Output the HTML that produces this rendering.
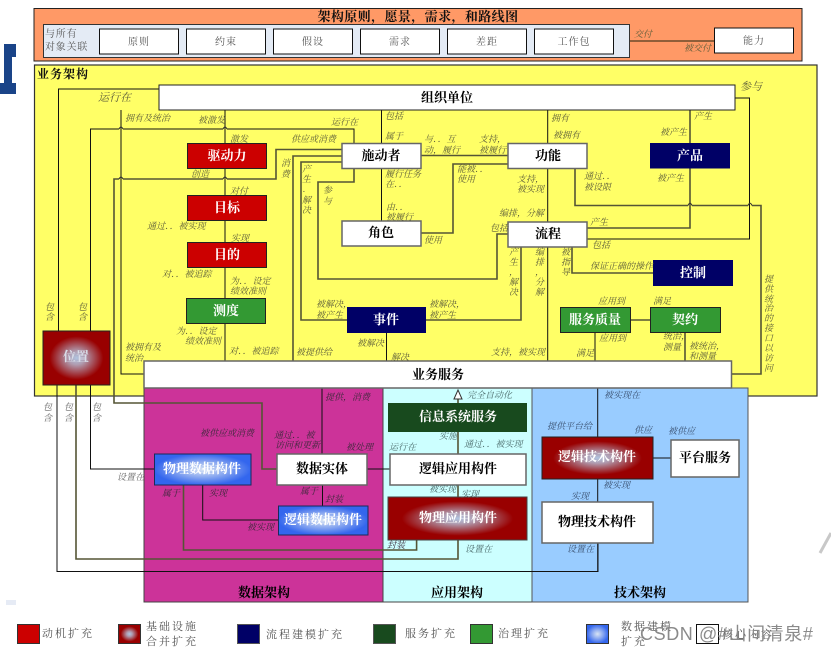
<!DOCTYPE html>
<html><head><meta charset="utf-8"><style>
html,body{margin:0;padding:0;background:#fff}
svg{display:block;filter:blur(.3px)}
text{font-family:"Liberation Serif","Noto Serif CJK SC",serif}
.t text{font-size:9px;font-style:italic;fill:#5c5c3a}
.p text{fill:#3a2a3a}.c text{fill:#4a6a6a}.b text{fill:#3a5070}.w text{fill:#666}
.n{font-size:13px;font-weight:bold;text-anchor:middle;fill:#000}
.nw{font-size:13px;font-weight:bold;text-anchor:middle;fill:#fff}
.g{font-size:10px;text-anchor:middle;fill:#555;letter-spacing:1px}
.lg{font-size:11px;fill:#555;letter-spacing:2px}
.k{fill:none;stroke:#111;stroke-width:1}
.q{fill:none;stroke:#555535;stroke-width:1.6}
.bx{stroke:#222;stroke-width:1}
.gb{stroke:#666;stroke-width:1.5}
</style></head><body>
<svg width="831" height="651" viewBox="0 0 831 651" xmlns="http://www.w3.org/2000/svg">
<defs>
<radialGradient id="rg"><stop offset="0" stop-color="#b0c4e0"/><stop offset=".25" stop-color="#b09cb0"/><stop offset=".8" stop-color="#990000"/><stop offset="1" stop-color="#990000"/></radialGradient>
<radialGradient id="bg"><stop offset="0" stop-color="#d8e4f4"/><stop offset=".5" stop-color="#8aa8f0"/><stop offset="1" stop-color="#3366ee"/></radialGradient>
</defs>
<path d="M4 44H16V57H12V83H16V94H0V83H4Z" fill="#1a4488"/>
<path d="M820 553L831 533" stroke="#c8c8c8" stroke-width="3" fill="none"/>
<rect x="6" y="600" width="10" height="5" fill="#e6ebf5"/>

<rect x="34" y="8.5" width="768" height="52.500" fill="#ff9966" stroke="#222"/>
<text x="418" y="21" font-size="13" font-weight="bold" text-anchor="middle" fill="#111" letter-spacing=".4">架构原则，愿景，需求，和路线图</text>
<rect x="43.500" y="24.500" width="586" height="33" fill="#e4ebf5" stroke="#333"/>
<text x="45" y="37" font-size="10" fill="#555" letter-spacing=".8">与所有</text>
<text x="45" y="50" font-size="10" fill="#555" letter-spacing=".8">对象关联</text>
<path d="M630 41H714" stroke="#6b4a2a" stroke-width="1.5"/>
<g fill="#fff" stroke="#111">
<rect x="99.500" y="29" width="79" height="25"/><rect x="186.500" y="29" width="79" height="25"/><rect x="273.500" y="29" width="79" height="25"/><rect x="360.500" y="29" width="79" height="25"/><rect x="447.500" y="29" width="79" height="25"/><rect x="534.500" y="29" width="79" height="25"/><rect x="714.500" y="28" width="79" height="25"/>
</g>
<g class="g"><text class="g" x="139" y="45">原则</text><text class="g" x="226" y="45">约束</text><text class="g" x="313" y="45">假设</text><text class="g" x="400" y="45">需求</text><text class="g" x="487" y="45">差距</text><text class="g" x="574" y="45">工作包</text><text class="g" x="754" y="44">能力</text></g>

<rect x="34.500" y="65" width="782.500" height="331" fill="#ffff66" stroke="#333" stroke-width="1.2"/>
<text x="37" y="78" font-size="12" font-weight="bold" fill="#111" letter-spacing="1">业务架构</text>

<rect x="144" y="388" width="239" height="214" fill="#cc3399" stroke="#444"/>
<rect x="383" y="388" width="149" height="214" fill="#ccffff" stroke="#444"/>
<rect x="532" y="388" width="216" height="214" fill="#99ccff" stroke="#555"/>

<!-- connectors -->
<path class="k" d="M159 89H58.500V331"/>
<path class="k" d="M57 385V571.500H598V543"/>
<path class="q" d="M76 385V559H458V540"/>
<path class="k" d="M90.500 331V129H119M123 129H223M227 129H354V143"/>
<path class="k" d="M90.500 385V469H154"/>
<path class="k" d="M121 110V374H144"/>
<path class="k" d="M225 110V143M225 168V195M225 221V242M225 268V298M225 324V361"/>
<path class="q" d="M342 149.500H276V179H227M223 179H123M119 179H114V403H262V469H277"/>
<path class="q" d="M342 156H293V361"/>
<path class="q" d="M342 162H301V320H347"/>
<path class="q" d="M354 168V182H318V279H497V234H508"/>
<path class="k" d="M381.500 110V143M381.500 168V221"/>
<path class="q" d="M421 155.500H508"/>
<path class="q" d="M421 233H453V164H508"/>
<path class="k" d="M547.700 110V143M547.700 168V222M547.700 247V361"/>
<path class="q" d="M575 168V205.500H688M692 205.500H748M752 205.500H761V374H731"/>
<path class="q" d="M690 110V143M690 168V228H587"/>
<path class="k" d="M735 98H749.500V239H587"/>
<path class="q" d="M521 247V320H426"/>
<path class="q" d="M572 247V273H653"/>
<path class="k" d="M386.500 333V361"/>
<path class="k" d="M595 333V361"/>
<path class="q" d="M631 320H650M685 333V361"/>
<path d="M119 129Q121 125 123 129M223 129Q225 125 227 129M119 179Q121 175 123 179M223 179Q225 175 227 179M688 205.500Q690 201 692 205.500M748 205.500Q750 201 752 205.500" fill="none" stroke="#333"/>
<path class="k" d="M597.700 388V437M597.700 479V502M597.700 543V572"/>
<path class="k" d="M322 388V454"/>
<path class="q" d="M458 399V403M458 432V454M458 485V497"/>
<path d="M454 399L458 390L462 399Z" fill="#fff" stroke="#333"/>
<path class="q" d="M416.600 540V550H183.500V485"/>
<path class="k" d="M202.700 485V520H278"/>
<path class="k" d="M322.500 485V506"/>
<path class="k" d="M367 469H390"/>
<path class="k" d="M653 458H671"/>

<!-- nodes -->
<rect x="144" y="361" width="587.500" height="27" fill="#fff" class="gb"/>
<text class="n" x="438" y="379">业务服务</text>
<rect x="159" y="85" width="576" height="25" fill="#fff" stroke="#222"/>
<text class="n" x="447" y="102">组织单位</text>
<rect class="bx" x="187.500" y="143.500" width="79" height="25" fill="#cc0000"/><text class="nw" x="227" y="160">驱动力</text>
<rect class="bx" x="187.500" y="195.500" width="79" height="25" fill="#cc0000"/><text class="nw" x="227" y="212">目标</text>
<rect class="bx" x="187.500" y="242.500" width="79" height="25" fill="#cc0000"/><text class="nw" x="227" y="259">目的</text>
<rect class="bx" x="186.500" y="298.500" width="79" height="25" fill="#339933"/><text class="nw" x="226" y="315">测度</text>
<rect class="bx" x="43" y="331" width="67" height="54" fill="url(#rg)"/><text x="76" y="361" font-size="13" font-weight="bold" text-anchor="middle" fill="#d8dce8">位置</text>
<rect class="gb" x="342" y="143.500" width="79" height="25" fill="#fff"/><text class="n" x="381" y="160">施动者</text>
<rect class="gb" x="342" y="221" width="79" height="25" fill="#fff"/><text class="n" x="381" y="237">角色</text>
<rect class="gb" x="508" y="143.500" width="79" height="25" fill="#fff"/><text class="n" x="548" y="160">功能</text>
<rect class="gb" x="508" y="222" width="79" height="25" fill="#fff"/><text class="n" x="548" y="238">流程</text>
<rect x="650" y="143" width="80" height="25.500" fill="#000066"/><text class="nw" x="690" y="160">产品</text>
<rect x="653" y="260" width="80" height="26" fill="#000066"/><text class="nw" x="693" y="277">控制</text>
<rect x="347" y="307" width="79" height="26" fill="#000066"/><text class="nw" x="386" y="324">事件</text>
<rect class="bx" x="560.500" y="307.500" width="70" height="25" fill="#339933"/><text class="nw" x="595" y="324">服务质量</text>
<rect class="bx" x="650.500" y="307.500" width="70" height="25" fill="#339933"/><text class="nw" x="685" y="324">契约</text>
<rect x="388" y="403" width="139" height="29" fill="#184a1e"/><text class="nw" x="458" y="421">信息系统服务</text>
<rect class="gb" x="390" y="454" width="136" height="31" fill="#fff"/><text class="n" x="458" y="473">逻辑应用构件</text>
<rect x="388" y="497" width="139" height="43" fill="url(#rg)" stroke="#444"/><text class="nw" x="458" y="522">物理应用构件</text>
<rect x="542" y="437" width="111" height="42" fill="url(#rg)" stroke="#222"/><text class="nw" x="597" y="461">逻辑技术构件</text>
<rect class="gb" x="542" y="502" width="111" height="41" fill="#fff"/><text class="n" x="597" y="526">物理技术构件</text>
<rect class="gb" x="671" y="440" width="68" height="37" fill="#fff"/><text class="n" x="705" y="462">平台服务</text>
<rect x="154.500" y="454" width="96.500" height="31" fill="url(#bg)" stroke="#1a2a5a"/><text class="nw" x="202" y="473">物理数据构件</text>
<rect class="gb" x="277" y="454" width="90" height="31" fill="#fff"/><text class="n" x="322" y="473">数据实体</text>
<rect x="278.500" y="506" width="89.500" height="29" fill="url(#bg)" stroke="#1a2a5a"/><text class="nw" x="323" y="524">逻辑数据构件</text>
<text class="n" x="264" y="597">数据架构</text><text class="n" x="457" y="597">应用架构</text><text class="n" x="640" y="597">技术架构</text>

<!-- yellow labels -->
<g class="t">
<text x="98" y="101" style="font-size:11px">运行在</text>
<text x="125" y="121">拥有及统治</text><text x="198" y="123">被激发</text><text x="230" y="142">激发</text>
<text x="291" y="142">供应或消费</text><text x="331" y="125">运行在</text><text x="385" y="119">包括</text><text x="385" y="139">属于</text>
<text x="191" y="177">创造</text><text x="230" y="194">对付</text>
<text x="281" y="166">消</text><text x="281" y="177">费</text>
<text x="302" y="172">产</text><text x="302" y="182">生</text><text x="303" y="192">.</text><text x="302" y="203">解</text><text x="302" y="213">决</text>
<text x="323" y="193">参</text><text x="323" y="204">与</text>
<text x="385" y="177">履行任务</text><text x="385" y="187">在．．</text><text x="386" y="210">由．．</text><text x="386" y="220">被履行</text>
<text x="424" y="142">与．．互</text><text x="424" y="153">动，履行</text><text x="479" y="142">支持，</text><text x="479" y="153">被履行</text>
<text x="457" y="172">能被．．</text><text x="457" y="182">使用</text><text x="517" y="182">支持，</text><text x="517" y="192">被实现</text>
<text x="499" y="216">编排，分解</text><text x="490" y="231">包括</text><text x="424" y="243">使用</text>
<text x="551" y="121">拥有</text><text x="553" y="138">被拥有</text><text x="660" y="135">被产生</text><text x="694" y="119">产生</text><text x="657" y="181">被产生</text>
<text x="584" y="179">通过．．</text><text x="584" y="190">被设限</text><text x="590" y="225">产生</text><text x="592" y="248">包括</text>
<text x="634" y="37">交付</text><text x="684" y="51">被交付</text><text x="740" y="90" style="font-size:11px">参与</text>
<text x="590" y="269">保证正确的操作</text>
<text x="561" y="255">被</text><text x="561" y="265">指</text><text x="561" y="275">导</text>
<text x="535" y="255">编</text><text x="535" y="265">排</text><text x="535" y="275">，</text><text x="535" y="285">分</text><text x="535" y="295">解</text>
<text x="509" y="255">产</text><text x="509" y="265">生</text><text x="509" y="275">，</text><text x="509" y="285">解</text><text x="509" y="295">决</text>
<text x="764" y="282">提</text><text x="764" y="292">供</text><text x="764" y="302">统</text><text x="764" y="311">治</text><text x="764" y="321">的</text><text x="764" y="331">接</text><text x="764" y="341">口</text><text x="764" y="351">以</text><text x="764" y="361">访</text><text x="764" y="371">问</text>
<text x="598" y="304">应用到</text><text x="653" y="304">满足</text><text x="599" y="341">应用到</text><text x="576" y="356">满足</text>
<text x="663" y="339">统治，</text><text x="663" y="350">测量</text><text x="689" y="349">被统治，</text><text x="689" y="359">和测量</text>
<text x="491" y="355">支持，被实现</text>
<text x="316" y="307">被解决，</text><text x="316" y="318">被产生</text><text x="429" y="307">被解决，</text><text x="429" y="318">被产生</text>
<text x="357" y="346">被解决</text><text x="391" y="360">解决</text><text x="296" y="355">被提供给</text>
<text x="125" y="350">被拥有及</text><text x="125" y="361">统治</text>
<text x="230" y="284">为．．设定</text><text x="230" y="294">绩效准则</text><text x="162" y="277">对．．被追踪</text><text x="147" y="229">通过．．被实现</text><text x="231" y="241">实现</text>
<text x="176" y="334">为．．设定</text><text x="185" y="344">绩效准则</text><text x="229" y="354">对．．被追踪</text>
<text x="45" y="310">包</text><text x="45" y="320">含</text><text x="78" y="310">包</text><text x="78" y="320">含</text>
</g>
<g class="t w"><text x="43" y="410">包</text><text x="43" y="421">含</text><text x="64" y="410">包</text><text x="64" y="421">含</text><text x="92" y="410">包</text><text x="92" y="421">含</text><text x="117" y="480">设置在</text></g>
<g class="t p">
<text x="325" y="400">提供，消费</text><text x="200" y="436">被供应或消费</text><text x="274" y="438">通过．．被</text><text x="275" y="448">访问和更新</text><text x="346" y="450">被处理</text>
<text x="162" y="496">属于</text><text x="209" y="496">实现</text><text x="300" y="494">属于</text><text x="325" y="502">封装</text><text x="247" y="530">被实现</text><text x="387" y="548">封装</text>
</g>
<g class="t c">
<text x="467" y="398">完全自动化</text><text x="439" y="439">实施</text><text x="389" y="450">运行在</text><text x="464" y="447">通过．．被实现</text><text x="429" y="492">被实现</text><text x="461" y="497">实现</text><text x="465" y="552">设置在</text>
</g>
<g class="t b">
<text x="604" y="398">被实现在</text><text x="547" y="429">提供平台给</text><text x="634" y="433">供应</text><text x="668" y="434">被供应</text><text x="603" y="488">被实现</text><text x="571" y="499">实现</text><text x="567" y="552">设置在</text>
</g>

<!-- legend -->
<g stroke="#333">
<rect x="17.500" y="624.500" width="22" height="19" fill="#cc0000"/>
<rect x="118.500" y="624.500" width="22" height="19" fill="url(#rg)"/>
<rect x="237.500" y="624.500" width="22" height="19" fill="#000066" stroke="#555"/>
<rect x="373.500" y="624.500" width="22" height="19" fill="#184a1e" stroke="#555"/>
<rect x="470.500" y="624.500" width="22" height="19" fill="#339933"/>
<rect x="586.500" y="624.500" width="22" height="19" fill="url(#bg)"/>
<rect x="696.500" y="624.500" width="22" height="19" fill="#fff" stroke="#111"/>
</g>
<text class="lg" x="42" y="637">动机扩充</text>
<text class="lg" x="146" y="630">基础设施</text><text class="lg" x="146" y="645">合并扩充</text>
<text class="lg" x="266" y="638">流程建模扩充</text>
<text class="lg" x="405" y="637">服务扩充</text>
<text class="lg" x="498" y="637">治理扩充</text>
<text class="lg" x="621" y="630">数据建模</text><text class="lg" x="621" y="645">扩充</text>
<text class="lg" x="722" y="638">核心内容</text>
<text x="640" y="640" font-size="18" letter-spacing=".6" style="font-family:'Liberation Sans','Noto Sans CJK SC',sans-serif" fill="#8a8a8a">CSDN @#山间清泉#</text>
</svg>
</body></html>
